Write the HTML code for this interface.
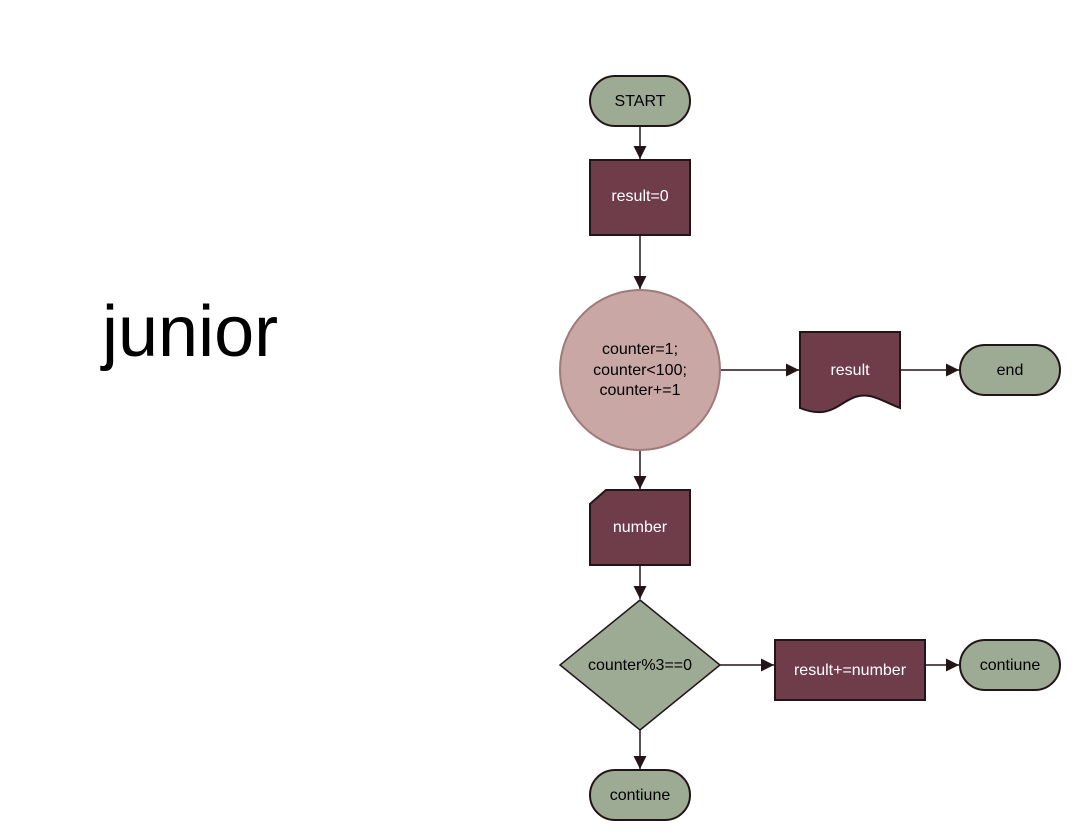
<!DOCTYPE html>
<html><head><style>body{margin:0;background:#fff}svg{display:block}</style></head><body>
<svg width="1080" height="840" viewBox="0 0 1080 840" xmlns="http://www.w3.org/2000/svg" font-family="Liberation Sans, Arial, sans-serif">
<defs><marker id="a" markerWidth="14" markerHeight="14" refX="13" refY="6.5" orient="auto" markerUnits="userSpaceOnUse"><path d="M0,0 L13,6.5 L0,13 z" fill="#231418"/></marker></defs>
<text x="102" y="356" font-size="72" fill="#000">junior</text>
<g stroke="#231418" stroke-width="1.5" fill="none" marker-end="url(#a)">
<line x1="640" y1="126" x2="640" y2="159"/>
<line x1="640" y1="235" x2="640" y2="289"/>
<line x1="720" y1="370" x2="799" y2="370"/>
<line x1="900" y1="370" x2="959" y2="370"/>
<line x1="640" y1="450" x2="640" y2="489"/>
<line x1="640" y1="565" x2="640" y2="599"/>
<line x1="720" y1="665" x2="774" y2="665"/>
<line x1="925" y1="665" x2="959" y2="665"/>
<line x1="640" y1="730" x2="640" y2="769"/>
</g>
<g stroke="#231418" stroke-width="2">
<rect x="590" y="76" width="100" height="50" rx="25" fill="#9dab94"/>
<rect x="590" y="160" width="100" height="75" fill="#6f3d4a"/>
<path d="M800,332 H900 V408 C880,400 870,392 855,397 C838,403 830,420 800,408 Z" fill="#6f3d4a"/>
<rect x="960" y="345" width="100" height="50" rx="25" fill="#9dab94"/>
<path d="M606,490 H690 V565 H590 V504 Z" fill="#6f3d4a"/>
<path d="M640,600 L720,665 L640,730 L560,665 Z" fill="#9dab94" stroke-width="1.5"/>
<rect x="775" y="640" width="150" height="60" fill="#6f3d4a"/>
<rect x="960" y="640" width="100" height="50" rx="25" fill="#9dab94"/>
<rect x="590" y="770" width="100" height="50" rx="25" fill="#9dab94"/>
</g>
<circle cx="640" cy="370" r="80" fill="#c9a7a4" stroke="#a07a78" stroke-width="2"/>
<g font-size="16" text-anchor="middle" fill="#000">
<text x="640" y="106">START</text>
<text x="640" y="201" fill="#fff">result=0</text>
<text x="640" y="354">counter=1;</text>
<text x="640" y="375">counter&lt;100;</text>
<text x="640" y="395">counter+=1</text>
<text x="850" y="375" fill="#fff">result</text>
<text x="1010" y="375">end</text>
<text x="640" y="532" fill="#fff">number</text>
<text x="640" y="670">counter%3==0</text>
<text x="850" y="675" fill="#fff">result+=number</text>
<text x="1010" y="670">contiune</text>
<text x="640" y="800">contiune</text>
</g>
</svg>
</body></html>
